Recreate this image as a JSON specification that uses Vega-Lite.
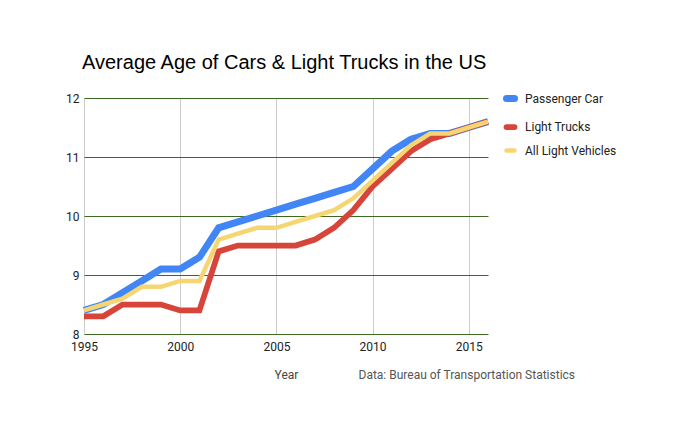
{
  "$schema": "https://vega.github.io/schema/vega-lite/v6.json",
  "width": 404,
  "height": 236,
  "autosize": "none",
  "padding": {"left": 84, "top": 98, "right": 190, "bottom": 109},
  "background": "white",
  "title": {
    "text": "Average Age of Cars & Light Trucks in the US",
    "anchor": "start",
    "frame": "group",
    "font": "Liberation Sans",
    "fontSize": 20,
    "fontWeight": "normal",
    "color": "#000000",
    "baseline": "alphabetic",
    "offset": 2,
    "dx": -2
  },
  "data": {
    "values": [
      {"year": 1995, "series": "Passenger Car", "age": 8.4},
      {"year": 1996, "series": "Passenger Car", "age": 8.5},
      {"year": 1997, "series": "Passenger Car", "age": 8.7},
      {"year": 1998, "series": "Passenger Car", "age": 8.9},
      {"year": 1999, "series": "Passenger Car", "age": 9.1},
      {"year": 2000, "series": "Passenger Car", "age": 9.1},
      {"year": 2001, "series": "Passenger Car", "age": 9.3},
      {"year": 2002, "series": "Passenger Car", "age": 9.8},
      {"year": 2003, "series": "Passenger Car", "age": 9.9},
      {"year": 2004, "series": "Passenger Car", "age": 10.0},
      {"year": 2005, "series": "Passenger Car", "age": 10.1},
      {"year": 2006, "series": "Passenger Car", "age": 10.2},
      {"year": 2007, "series": "Passenger Car", "age": 10.3},
      {"year": 2008, "series": "Passenger Car", "age": 10.4},
      {"year": 2009, "series": "Passenger Car", "age": 10.5},
      {"year": 2010, "series": "Passenger Car", "age": 10.8},
      {"year": 2011, "series": "Passenger Car", "age": 11.1},
      {"year": 2012, "series": "Passenger Car", "age": 11.3},
      {"year": 2013, "series": "Passenger Car", "age": 11.4},
      {"year": 2014, "series": "Passenger Car", "age": 11.4},
      {"year": 2015, "series": "Passenger Car", "age": 11.5},
      {"year": 2016, "series": "Passenger Car", "age": 11.6},
      {"year": 1995, "series": "Light Trucks", "age": 8.3},
      {"year": 1996, "series": "Light Trucks", "age": 8.3},
      {"year": 1997, "series": "Light Trucks", "age": 8.5},
      {"year": 1998, "series": "Light Trucks", "age": 8.5},
      {"year": 1999, "series": "Light Trucks", "age": 8.5},
      {"year": 2000, "series": "Light Trucks", "age": 8.4},
      {"year": 2001, "series": "Light Trucks", "age": 8.4},
      {"year": 2002, "series": "Light Trucks", "age": 9.4},
      {"year": 2003, "series": "Light Trucks", "age": 9.5},
      {"year": 2004, "series": "Light Trucks", "age": 9.5},
      {"year": 2005, "series": "Light Trucks", "age": 9.5},
      {"year": 2006, "series": "Light Trucks", "age": 9.5},
      {"year": 2007, "series": "Light Trucks", "age": 9.6},
      {"year": 2008, "series": "Light Trucks", "age": 9.8},
      {"year": 2009, "series": "Light Trucks", "age": 10.1},
      {"year": 2010, "series": "Light Trucks", "age": 10.5},
      {"year": 2011, "series": "Light Trucks", "age": 10.8},
      {"year": 2012, "series": "Light Trucks", "age": 11.1},
      {"year": 2013, "series": "Light Trucks", "age": 11.3},
      {"year": 2014, "series": "Light Trucks", "age": 11.4},
      {"year": 2015, "series": "Light Trucks", "age": 11.5},
      {"year": 2016, "series": "Light Trucks", "age": 11.6},
      {"year": 1995, "series": "All Light Vehicles", "age": 8.4},
      {"year": 1996, "series": "All Light Vehicles", "age": 8.5},
      {"year": 1997, "series": "All Light Vehicles", "age": 8.6},
      {"year": 1998, "series": "All Light Vehicles", "age": 8.8},
      {"year": 1999, "series": "All Light Vehicles", "age": 8.8},
      {"year": 2000, "series": "All Light Vehicles", "age": 8.9},
      {"year": 2001, "series": "All Light Vehicles", "age": 8.9},
      {"year": 2002, "series": "All Light Vehicles", "age": 9.6},
      {"year": 2003, "series": "All Light Vehicles", "age": 9.7},
      {"year": 2004, "series": "All Light Vehicles", "age": 9.8},
      {"year": 2005, "series": "All Light Vehicles", "age": 9.8},
      {"year": 2006, "series": "All Light Vehicles", "age": 9.9},
      {"year": 2007, "series": "All Light Vehicles", "age": 10.0},
      {"year": 2008, "series": "All Light Vehicles", "age": 10.1},
      {"year": 2009, "series": "All Light Vehicles", "age": 10.3},
      {"year": 2010, "series": "All Light Vehicles", "age": 10.6},
      {"year": 2011, "series": "All Light Vehicles", "age": 10.9},
      {"year": 2012, "series": "All Light Vehicles", "age": 11.2},
      {"year": 2013, "series": "All Light Vehicles", "age": 11.4},
      {"year": 2014, "series": "All Light Vehicles", "age": 11.4},
      {"year": 2015, "series": "All Light Vehicles", "age": 11.5},
      {"year": 2016, "series": "All Light Vehicles", "age": 11.6}
    ]
  },
  "layer": [
    {
      "mark": {"type": "line"},
      "encoding": {
        "x": {
          "field": "year",
          "type": "quantitative",
          "scale": {"domain": [1995, 2016], "nice": false, "zero": false},
          "axis": {
            "values": [1995, 2000, 2005, 2010, 2015],
            "format": "d",
            "title": "Year",
            "titleColor": "#444444",
            "titleFontWeight": "normal",
            "titleFontSize": 12,
            "titleBaseline": "alphabetic",
            "titleY": 44,
            "gridColor": "#cccccc",
            "domain": false,
            "ticks": false,
            "labelFlush": false,
            "labelPadding": 7
          }
        },
        "y": {
          "field": "age",
          "type": "quantitative",
          "scale": {"domain": [8, 12], "nice": false, "zero": false},
          "axis": {
            "values": [8, 9, 10, 11, 12],
            "title": null,
            "gridColor": "#3d6a22",
            "gridOpacity": 1,
            "domain": false,
            "ticks": false,
            "labelFlush": false,
            "labelPadding": 5
          }
        },
        "color": {
          "field": "series",
          "type": "nominal",
          "sort": ["Passenger Car", "Light Trucks", "All Light Vehicles"],
          "scale": {
            "domain": ["Passenger Car", "Light Trucks", "All Light Vehicles"],
            "range": ["#4285f4", "#d6443a", "#f6d673"]
          },
          "legend": {
            "title": null,
            "orient": "none",
            "legendX": 419,
            "legendY": -7,
            "symbolType": "stroke",
            "symbolSize": 64,
            "symbolStrokeWidth": 4,
            "rowPadding": 2,
            "labelFont": "Roboto",
            "labelFontSize": 12,
            "labelColor": "#222222",
            "labelOffset": 7,
            "encode": {
              "symbols": {"update": {"strokeWidth": {"value": 4}, "strokeCap": {"value": "round"}}}
            }
          }
        },
        "strokeWidth": {
          "field": "series",
          "type": "nominal",
          "scale": {
            "domain": ["Passenger Car", "Light Trucks", "All Light Vehicles"],
            "range": [7, 4.5, 4.5]
          },
          "legend": null
        }
      }
    },
    {
      "mark": {"type": "point", "opacity": 0},
      "encoding": {
        "x": {
          "field": "year",
          "type": "quantitative",
          "axis": {
            "orient": "bottom",
            "labels": false,
            "ticks": false,
            "domain": false,
            "grid": false,
            "title": "Data: Bureau of Transportation Statistics",
            "titleColor": "#555555",
            "titleFontWeight": "normal",
            "titleFontSize": 12,
            "titleAlign": "left",
            "titleAnchor": "start",
            "titleBaseline": "alphabetic",
            "titleX": 274,
            "titleY": 44
          }
        },
        "y": {"field": "age", "type": "quantitative", "axis": null}
      }
    }
  ],
  "resolve": {"axis": {"x": "independent", "y": "independent"}},
  "config": {
    "view": {"stroke": null},
    "font": "Roboto",
    "axis": {
      "labelFont": "Roboto",
      "labelFontSize": 12,
      "labelColor": "#222222",
      "titleFont": "Roboto",
      "gridWidth": 1
    }
  }
}
